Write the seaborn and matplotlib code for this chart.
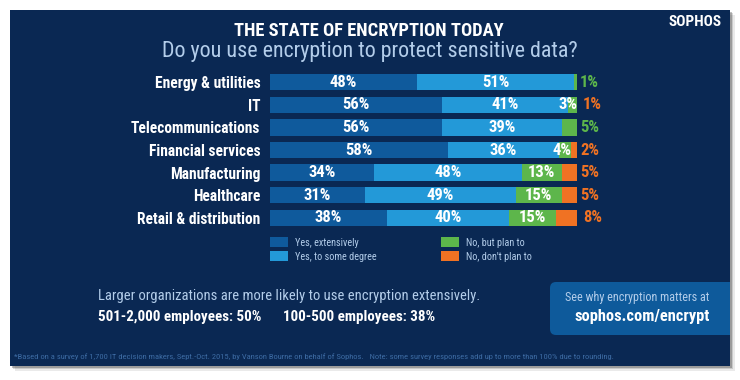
import pandas as pd
import seaborn as sns
import matplotlib.pyplot as plt
from matplotlib.patches import Rectangle, FancyBboxPatch

sectors = ["Energy & utilities", "IT", "Telecommunications", "Financial services",
           "Manufacturing", "Healthcare", "Retail & distribution"]
yes_ext = [48, 56, 56, 58, 34, 31, 38]
yes_some = [51, 41, 39, 36, 48, 49, 40]
no_plan = [1, 3, 5, 4, 13, 15, 15]
no_never = [0, 1, 0, 2, 5, 5, 8]

series_names = ["Yes, extensively", "Yes, to some degree", "No, but plan to", "No, don't plan to"]
colors = ["#0f5a9c", "#2399d8", "#5db64b", "#f07223"]

NAVY = "#0a2853"
PALE = "#b3cdea"

sns.set_theme(style="white")
plt.rcParams["font.family"] = ["Roboto Condensed", "Roboto", "DejaVu Sans"]

df = pd.DataFrame({"sector": sectors, "s0": yes_ext, "s1": yes_some,
                   "s2": no_plan, "s3": no_never})
cols = ["s0", "s1", "s2", "s3"]
cum = df[cols].cumsum(axis=1)

fig = plt.figure(figsize=(7.4, 3.8), dpi=100)
fig.patch.set_facecolor("white")

# background layer in pixel coordinates
bg = fig.add_axes([0, 0, 1, 1])
bg.set_xlim(0, 740)
bg.set_ylim(380, 0)
bg.axis("off")
for off, a in [(5, 0.10), (3, 0.18), (1.5, 0.3)]:
    bg.add_patch(Rectangle((10 + off, 10 + off), 720, 356, color="#333333", alpha=a, lw=0))
panel = Rectangle((10, 10), 720, 356, color=NAVY, lw=0)
bg.add_patch(panel)

bg.text(369, 31, "THE STATE OF ENCRYPTION TODAY", color="white", fontsize=13.3,
        fontweight="bold", ha="center", va="center")
bg.text(370, 51, "Do you use encryption to protect sensitive data?", color=PALE,
        fontsize=15.8, ha="center", va="center")
bg.text(722, 22, "SOPHOS", color="white", fontsize=11, fontweight="bold",
        ha="right", va="center")

# bar chart axes
ax = fig.add_axes([270 / 740, 1 - 229 / 380, 307 / 740, (229 - 71) / 380])
ax.patch.set_alpha(0)
for i in range(3, -1, -1):
    sns.barplot(x=cum[cols[i]], y=df["sector"], orient="h", color=colors[i],
                saturation=1, width=0.72, linewidth=0, ax=ax)
ax.set_xlim(0, 100)
ax.set_ylim(6.5, -0.5)
ax.set_xlabel("")
ax.set_ylabel("")
ax.set_xticks([])
ax.tick_params(axis="y", length=0, pad=7)
for lab in ax.get_yticklabels():
    lab.set_color("white")
    lab.set_fontweight("bold")
    lab.set_fontsize(11.2)
sns.despine(ax=ax, left=True, bottom=True)

# value labels
for r in range(len(sectors)):
    vals = [df.loc[r, c] for c in cols]
    ends = [cum.loc[r, c] for c in cols]
    last = max(i for i, v in enumerate(vals) if v > 0)
    for i, v in enumerate(vals):
        if v <= 0:
            continue
        start = ends[i] - v
        if i == last and i >= 2:
            ax.text(ends[i] + 1, r, f"{v}%", color=colors[i], fontsize=12,
                    fontweight="bold", ha="left", va="center", clip_on=False)
        elif v < 6:
            ax.text(ends[i] + 0.3, r, f"{v}%", color="white", fontsize=12,
                    fontweight="bold", ha="right", va="center")
        else:
            ax.text(start + v / 2, r, f"{v}%", color="white", fontsize=12,
                    fontweight="bold", ha="center", va="center")

# legend
leg_pos = [(270, 237), (270, 251), (441, 237), (441, 251)]
for (lx, ly), name, c in zip(leg_pos, series_names, colors):
    bg.add_patch(Rectangle((lx, ly), 18, 10, color=c, lw=0))
    bg.text(lx + 25, ly + 5.5, name, color=PALE, fontsize=7.3, ha="left", va="center")

# bottom notes
bg.text(98, 296, "Larger organizations are more likely to use encryption extensively.",
        color=PALE, fontsize=10.5, ha="left", va="center")
bg.text(98, 317, "501-2,000 employees: 50%", color="white", fontsize=10.8,
        fontweight="bold", ha="left", va="center")
bg.text(283, 317, "100-500 employees: 38%", color="white", fontsize=10.8,
        fontweight="bold", ha="left", va="center")

box = FancyBboxPatch((550, 282), 200, 53, boxstyle="round,pad=0,rounding_size=6",
                     color="#0e5a9b", lw=0)
bg.add_patch(box)
box.set_clip_path(panel)
bg.text(637, 298, "See why encryption matters at", color=PALE, fontsize=8.7,
        ha="center", va="center")
bg.text(642, 317, "sophos.com/encrypt", color="white", fontsize=11.8,
        fontweight="bold", ha="center", va="center")

bg.text(14, 357, "*Based on a survey of 1,700 IT decision makers, Sept.-Oct. 2015, by Vanson Bourne "
        "on behalf of Sophos.   Note: some survey responses add up to more than 100% due to rounding.",
        color="#3d6ba3", fontsize=6.1, ha="left", va="center")

fig.savefig("out.png", dpi=100, facecolor="white")
